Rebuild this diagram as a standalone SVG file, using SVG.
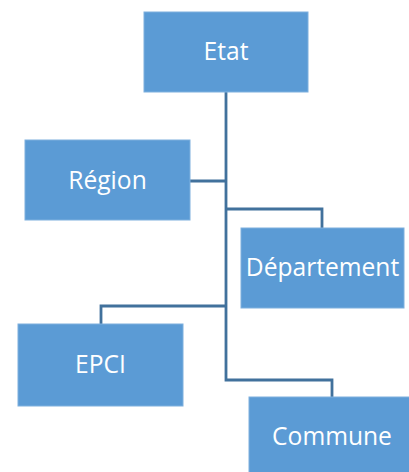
<svg xmlns="http://www.w3.org/2000/svg" width="409" height="472" viewBox="0 0 409 472">
  <style>
    .box { fill: #5B9BD5; stroke: #7EB0DE; stroke-width: 1; }
    .label { font-family: "Open Sans", "Noto Sans", sans-serif; font-size: 24.6px; fill: #ffffff; text-anchor: middle; }
    .link { fill: none; stroke: #41719C; stroke-width: 2.8; }
  </style>
  <rect width="409" height="472" fill="#ffffff"/>

  <!-- connectors -->
  <g id="connectors">
    <path class="link" d="M226,92 V380 H332 V397"/>
    <path class="link" d="M190,181 H226"/>
    <path class="link" d="M226,209 H322 V228"/>
    <path class="link" d="M226,306 H101 V324"/>
  </g>

  <g id="etat">
    <rect class="box" x="144" y="12" width="164" height="80"/>
    <text class="label" x="226" y="60">Etat</text>
  </g>
  <g id="region">
    <rect class="box" x="25" y="140" width="165" height="80"/>
    <text class="label" x="107.5" y="189">Région</text>
  </g>
  <g id="departement">
    <rect class="box" x="241" y="228" width="163" height="80"/>
    <text class="label" x="322.5" y="276">Département</text>
  </g>
  <g id="epci">
    <rect class="box" x="18" y="324" width="165" height="82"/>
    <text class="label" x="100.5" y="373">EPCI</text>
  </g>
  <g id="commune">
    <rect class="box" x="249" y="397" width="166" height="82"/>
    <text class="label" x="332" y="445">Commune</text>
  </g>
</svg>
